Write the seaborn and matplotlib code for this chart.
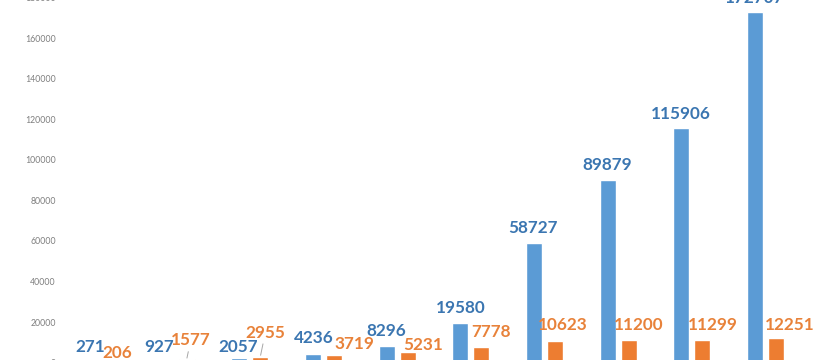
import matplotlib
matplotlib.use("Agg")
import matplotlib.pyplot as plt
import seaborn as sns
import pandas as pd

categories = ["1", "2", "3", "4", "5", "6", "7", "8", "9", "10"]
series_a = [271, 927, 2057, 4236, 8296, 19580, 58727, 89879, 115906, 172707]
series_b = [206, 1577, 2955, 3719, 5231, 7778, 10623, 11200, 11299, 12251]
yticks = [0, 20000, 40000, 60000, 80000, 100000, 120000, 140000, 160000, 180000]

# label offsets in pixels (dx, dy) relative to bar top centre
offs_a = [(-2, 15), (-7, 14), (-1, 11), (1, 16), (0, 15), (0, 15), (-1, 15), (0, 15), (0, 14), (0, 14)]
offs_b = [(4, 9), (4, 19), (5, 24), (20, 11), (16, 7), (10, 15), (8, 16), (10, 15), (11, 15), (14, 13)]
leader_b = [False, True, True, False, False, False, False, False, False, False]

sns.set_theme(style="white")
plt.rcParams["font.family"] = ["Lato", "DejaVu Sans"]

df = pd.DataFrame({
    "cat": categories * 2,
    "value": series_a + series_b,
    "series": ["A"] * len(categories) + ["B"] * len(categories),
})

fig = plt.figure(figsize=(8.2, 3.6), dpi=100)
ax = fig.add_axes([60 / 820, -2.6 / 360, 760 / 820, 365.1 / 360])

sns.barplot(data=df, x="cat", y="value", hue="series",
            palette={"A": "#5B9BD5", "B": "#ED7D31"},
            width=0.57, gap=0.24, legend=False, ax=ax, saturation=1)

ax.set_xlim(-0.577, 9.74)
ax.set_ylim(0, 180000)
ax.set_yticks(yticks)
ax.set_yticklabels([str(t) for t in yticks], fontsize=6.3, color="#7f7f7f")
ax.tick_params(axis="y", length=0, pad=3)
ax.tick_params(axis="x", length=0, labelbottom=False)
ax.set_xlabel("")
ax.set_ylabel("")
for s in ax.spines.values():
    s.set_visible(False)
ax.patch.set_alpha(0)

def label(container, values, offs, color, leaders=None):
    for i, (bar, v) in enumerate(zip(container, values)):
        xc = bar.get_x() + bar.get_width() / 2
        kw = {}
        if leaders is not None and leaders[i]:
            kw["arrowprops"] = dict(arrowstyle="-", color="#a6a6a6", lw=0.7,
                                    shrinkA=0, shrinkB=1)
        ax.annotate(str(v), xy=(xc, v), xytext=offs[i], textcoords="offset pixels",
                    ha="center", va="center", fontsize=12.3, fontweight="bold",
                    color=color, annotation_clip=False, **kw)

label(ax.containers[0], series_a, offs_a, "#3B76B1")
label(ax.containers[1], series_b, offs_b, "#E8823A", leader_b)

fig.savefig("out.png", dpi=100)
